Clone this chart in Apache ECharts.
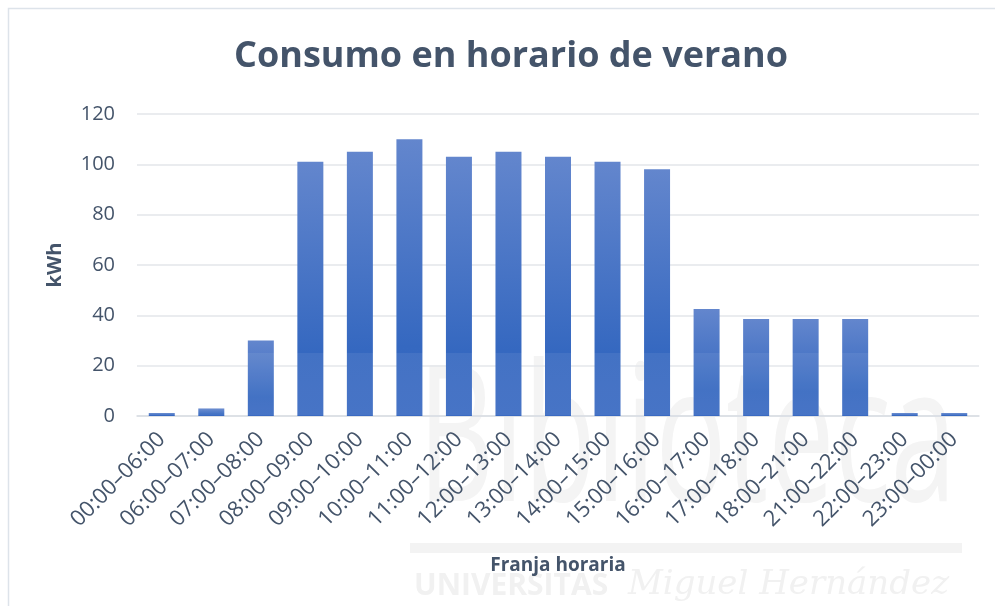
<!DOCTYPE html>
<html>
<head>
<meta charset="utf-8">
<script src="https://cdn.jsdelivr.net/npm/echarts@6/dist/echarts.min.js"></script>
<style>
html,body{margin:0;padding:0;background:#fff;}
#chart{width:995px;height:606px;}
</style>
</head>
<body>
<div id="chart"></div>
<script>
const titleText = 'Consumo en horario de verano';
const categories = ['00:00–06:00','06:00–07:00','07:00–08:00','08:00–09:00','09:00–10:00','10:00–11:00','11:00–12:00','12:00–13:00','13:00–14:00','14:00–15:00','15:00–16:00','16:00–17:00','17:00–18:00','18:00–21:00','21:00–22:00','22:00–23:00','23:00–00:00'];
const consumo = [1.2, 3, 30, 101, 105, 110, 103, 105, 103, 101, 98, 42.5, 38.5, 38.5, 38.5, 1.2, 1.2];
const yAxisName = 'kWh';
const xAxisName = 'Franja horaria';

const chart = echarts.init(document.getElementById('chart'), null, {renderer:'canvas'});
const textColor = '#44546A';
chart.setOption({
  animation: false,
  backgroundColor: '#ffffff',
  title: {
    text: titleText,
    left: 506, top: 34, textAlign: 'center',
    textStyle: {fontFamily: 'Open Sans', fontWeight: 'bold', fontSize: 36, color: textColor}
  },
  graphic: [
    {type:'rect', z:-10, silent:true, shape:{x:8.5, y:8.5, width:1100, height:800}, style:{fill:'none', stroke:'#dde3ea', lineWidth:1.5}},
    {type:'text', z:-10, silent:true, x: 418, y: 352, scaleX: 0.62, style:{text:'Biblioteca', fontFamily:'Open Sans', fontSize:190, fill:'#f4f4f4'}},
    {type:'rect', z:-10, silent:true, shape:{x:410, y:543, width:552, height:10}, style:{fill:'#f3f3f3'}},
    {type:'text', z:-10, silent:true, x: 414, y: 571, style:{text:'UNIVERSITAS', fontFamily:'Open Sans', fontWeight:'bold', fontSize:30, fill:'#f1f1f1'}},
    {type:'text', z:-10, silent:true, x: 628, y: 568, style:{text:'Miguel Hernández', fontFamily:'DejaVu Serif', fontStyle:'italic', fontSize:34, fill:'#f1f1f1'}},
    {type:'rect', z:100, silent:true, shape:{x:137, y:353, width:842, height:62}, style:{fill:'rgba(255,255,255,0.07)'}}
  ],
  grid: {left: 137, right: 16, top: 114, bottom: 190, containLabel: false},
  xAxis: {
    type: 'category',
    data: categories,
    name: xAxisName,
    nameLocation: 'middle',
    nameGap: 140,
    nameTextStyle: {fontFamily:'Open Sans', fontWeight:'bold', fontSize:19, color:textColor},
    axisLine: {show: true, lineStyle: {color:'#d9dde3', width: 1.5}},
    axisTick: {show: false},
    axisLabel: {rotate: 45, fontFamily:'Open Sans', fontSize: 22, color: textColor, margin: 20, interval: 0}
  },
  yAxis: {
    type: 'value',
    min: 0, max: 120, interval: 20,
    name: yAxisName,
    nameLocation: 'middle',
    nameGap: 72,
    nameRotate: 90,
    nameTextStyle: {fontFamily:'Open Sans', fontWeight:'bold', fontSize:20, color:textColor},
    axisLine: {show:false},
    axisTick: {show:false},
    axisLabel: {fontFamily:'Open Sans', fontSize: 20, color: textColor, margin: 22},
    splitLine: {lineStyle: {color:'#e3e6ea', width: 1.5}}
  },
  series: [{
    type: 'bar',
    data: consumo,
    barWidth: 26,
    itemStyle: {
      color: new echarts.graphic.LinearGradient(0,0,0,1,[
        {offset:0, color:'#6386cd'},
        {offset:0.75, color:'#3568c0'},
        {offset:1, color:'#3a6ac2'}
      ])
    }
  }]
});
</script>
</body>
</html>
